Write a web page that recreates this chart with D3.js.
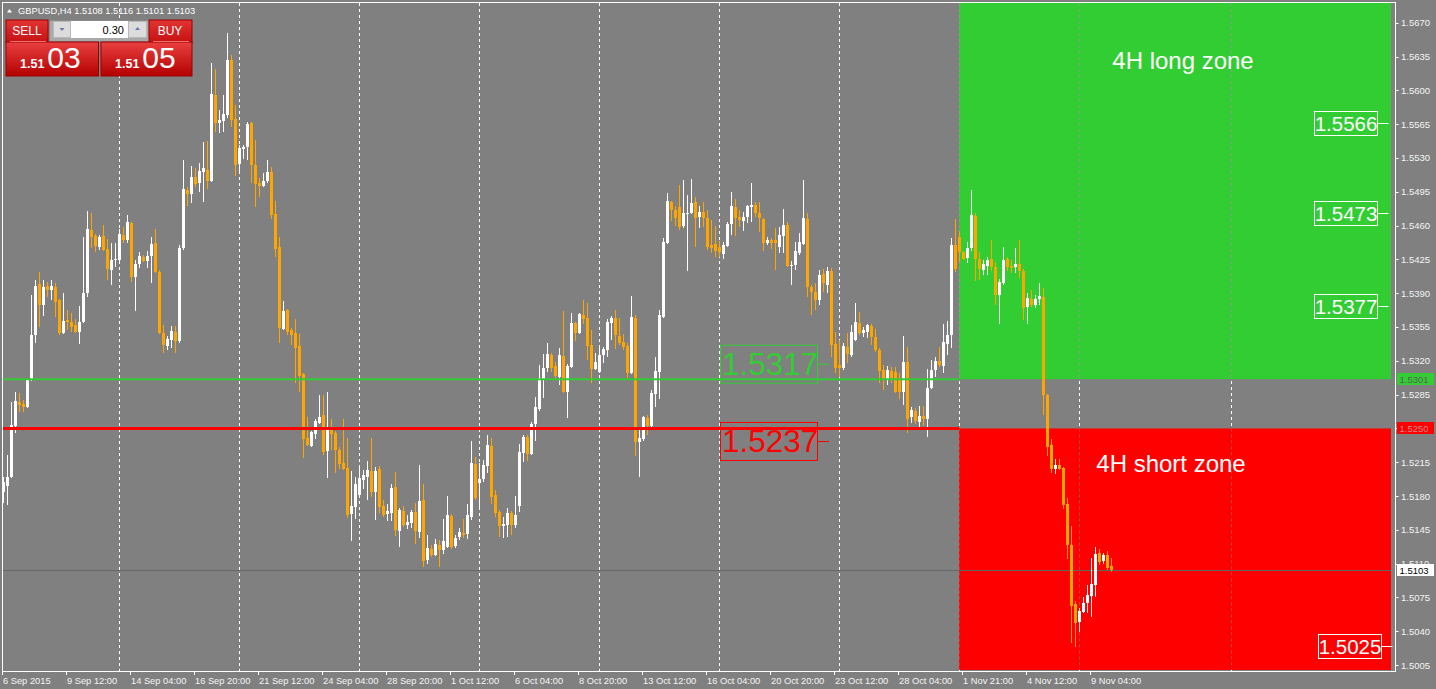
<!DOCTYPE html>
<html><head><meta charset="utf-8">
<script src="https://cdn.jsdelivr.net/npm/d3@7"></script>
<style>
body{margin:0;background:#808080;overflow:hidden}
svg{display:block}
text{font-family:"Liberation Sans",Arial,sans-serif}
</style>
</head><body>
<svg id="chart" width="1436" height="689"></svg>
<script>
// ---------------- DATA ----------------
const symbolTitle = "GBPUSD,H4";
const lastOHLC = ["1.5108", "1.5116", "1.5101", "1.5103"];
const lotSize = "0.30";
const sellQuote = ["1.51", "03"];
const buyQuote = ["1.51", "05"];

const openP = [
1.5184,1.5190,1.5200,1.5253,1.5277,1.5275,1.5272,1.5300,1.5347,1.5399,
1.5378,1.5397,1.5393,1.5396,1.5383,1.5349,1.5362,1.5360,1.5357,1.5350,
1.5360,1.5390,1.5455,1.5449,1.5438,1.5449,1.5436,1.5414,1.5424,1.5424,
1.5450,1.5445,1.5463,1.5407,1.5420,1.5427,1.5423,1.5428,1.5442,1.5412,
1.5349,1.5335,1.5342,1.5350,1.5340,1.5437,1.5497,1.5493,1.5510,1.5504,
1.5515,1.5518,1.5506,1.5595,1.5566,1.5568,1.5574,1.5631,1.5570,1.5524,
1.5539,1.5541,1.5566,1.5523,1.5504,1.5501,1.5506,1.5515,1.5472,1.5438,
1.5353,1.5373,1.5352,1.5349,1.5335,1.5306,1.5240,1.5232,1.5244,1.5256,
1.5264,1.5227,1.5248,1.5245,1.5228,1.5214,1.5209,1.5161,1.5169,1.5181,
1.5197,1.5200,1.5206,1.5184,1.5208,1.5170,1.5161,1.5162,1.5189,1.5144,
1.5165,1.5150,1.5152,1.5163,1.5143,1.5176,1.5114,1.5125,1.5119,1.5129,
1.5124,1.5127,1.5159,1.5128,1.5138,1.5142,1.5141,1.5158,1.5213,1.5194,
1.5198,1.5211,1.5232,1.5181,1.5163,1.5149,1.5150,1.5162,1.5150,1.5170,
1.5225,1.5241,1.5224,1.5255,1.5270,1.5301,1.5313,1.5326,1.5315,1.5303,
1.5325,1.5288,1.5314,1.5359,1.5349,1.5367,1.5364,1.5336,1.5312,1.5308,
1.5326,1.5331,1.5359,1.5364,1.5346,1.5339,1.5335,1.5307,1.5364,1.5236,
1.5239,1.5261,1.5253,1.5286,1.5308,1.5365,1.5442,1.5484,1.5476,1.5479,
1.5460,1.5472,1.5473,1.5484,1.5469,1.5474,1.5468,1.5440,1.5441,1.5438,
1.5431,1.5439,1.5462,1.5479,1.5469,1.5465,1.5469,1.5479,1.5481,1.5473,
1.5467,1.5442,1.5445,1.5445,1.5438,1.5449,1.5461,1.5418,1.5419,1.5432,
1.5441,1.5467,1.5396,1.5391,1.5383,1.5410,1.5398,1.5413,1.5337,1.5316,
1.5313,1.5334,1.5326,1.5342,1.5359,1.5349,1.5350,1.5356,1.5345,1.5331,
1.5310,1.5300,1.5309,1.5308,1.5302,1.5288,1.5319,1.5262,1.5268,1.5257,
1.5263,1.5260,1.5292,1.5310,1.5320,1.5315,1.5337,1.5347,1.5440,1.5448,
1.5433,1.5426,1.5437,1.5470,1.5425,1.5414,1.5418,1.5425,1.5417,1.5388,
1.5401,1.5425,1.5418,1.5417,1.5420,1.5413,1.5376,1.5384,1.5378,1.5384,
1.5386,1.5285,1.5233,1.5208,1.5212,1.5209,1.5172,1.5129,1.5068,1.5050,
1.5060,1.5069,1.5077,1.5088,1.5121,1.5113,1.5119,1.5108];

const highP = [
1.5200,1.5222,1.5277,1.5288,1.5287,1.5279,1.5301,1.5388,1.5404,1.5412,
1.5404,1.5402,1.5404,1.5401,1.5384,1.5390,1.5373,1.5369,1.5363,1.5377,
1.5448,1.5475,1.5473,1.5451,1.5450,1.5461,1.5446,1.5442,1.5442,1.5456,
1.5458,1.5471,1.5464,1.5424,1.5433,1.5430,1.5434,1.5448,1.5456,1.5414,
1.5357,1.5346,1.5356,1.5356,1.5440,1.5528,1.5500,1.5522,1.5520,1.5525,
1.5546,1.5548,1.5628,1.5622,1.5580,1.5595,1.5659,1.5637,1.5585,1.5543,
1.5543,1.5567,1.5567,1.5549,1.5509,1.5514,1.5528,1.5521,1.5485,1.5448,
1.5382,1.5374,1.5354,1.5363,1.5348,1.5307,1.5262,1.5247,1.5260,1.5285,
1.5285,1.5288,1.5260,1.5247,1.5231,1.5260,1.5240,1.5206,1.5200,1.5209,
1.5207,1.5216,1.5240,1.5210,1.5211,1.5176,1.5172,1.5192,1.5205,1.5168,
1.5170,1.5160,1.5166,1.5173,1.5212,1.5192,1.5140,1.5129,1.5136,1.5134,
1.5156,1.5180,1.5161,1.5140,1.5147,1.5156,1.5172,1.5237,1.5220,1.5214,
1.5217,1.5243,1.5240,1.5186,1.5166,1.5158,1.5168,1.5165,1.5180,1.5234,
1.5243,1.5243,1.5257,1.5283,1.5316,1.5327,1.5338,1.5328,1.5319,1.5333,
1.5372,1.5317,1.5369,1.5360,1.5369,1.5383,1.5380,1.5352,1.5328,1.5336,
1.5334,1.5363,1.5366,1.5373,1.5364,1.5348,1.5338,1.5387,1.5367,1.5248,
1.5263,1.5264,1.5290,1.5324,1.5373,1.5447,1.5494,1.5485,1.5480,1.5502,
1.5507,1.5492,1.5508,1.5490,1.5480,1.5484,1.5476,1.5466,1.5460,1.5444,
1.5443,1.5464,1.5495,1.5488,1.5476,1.5474,1.5481,1.5504,1.5484,1.5484,
1.5468,1.5448,1.5447,1.5457,1.5459,1.5477,1.5464,1.5423,1.5443,1.5452,
1.5507,1.5473,1.5398,1.5401,1.5414,1.5415,1.5417,1.5416,1.5350,1.5342,
1.5338,1.5349,1.5357,1.5380,1.5371,1.5355,1.5358,1.5358,1.5353,1.5333,
1.5316,1.5315,1.5314,1.5314,1.5307,1.5346,1.5334,1.5272,1.5271,1.5273,
1.5273,1.5312,1.5321,1.5324,1.5334,1.5358,1.5361,1.5447,1.5467,1.5454,
1.5434,1.5443,1.5497,1.5473,1.5433,1.5424,1.5427,1.5445,1.5422,1.5405,
1.5438,1.5427,1.5424,1.5437,1.5445,1.5415,1.5390,1.5393,1.5388,1.5401,
1.5395,1.5286,1.5239,1.5218,1.5218,1.5210,1.5178,1.5149,1.5071,1.5064,
1.5075,1.5088,1.5116,1.5127,1.5125,1.5121,1.5123,1.5116];

const lowP = [
1.5173,1.5171,1.5199,1.5245,1.5267,1.5267,1.5271,1.5299,1.5338,1.5355,
1.5366,1.5386,1.5383,1.5365,1.5347,1.5348,1.5352,1.5350,1.5349,1.5337,
1.5359,1.5386,1.5437,1.5433,1.5435,1.5434,1.5404,1.5398,1.5417,1.5421,
1.5442,1.5442,1.5402,1.5372,1.5416,1.5422,1.5416,1.5401,1.5411,1.5348,
1.5328,1.5331,1.5333,1.5328,1.5338,1.5435,1.5480,1.5483,1.5500,1.5495,
1.5484,1.5498,1.5505,1.5557,1.5556,1.5557,1.5571,1.5562,1.5511,1.5514,
1.5529,1.5528,1.5504,1.5479,1.5490,1.5500,1.5504,1.5467,1.5427,1.5338,
1.5352,1.5347,1.5336,1.5297,1.5288,1.5219,1.5232,1.5231,1.5239,1.5255,
1.5222,1.5199,1.5228,1.5204,1.5208,1.5207,1.5157,1.5133,1.5156,1.5178,
1.5187,1.5176,1.5179,1.5155,1.5162,1.5158,1.5154,1.5154,1.5139,1.5127,
1.5148,1.5146,1.5147,1.5130,1.5137,1.5107,1.5110,1.5117,1.5118,1.5107,
1.5120,1.5126,1.5125,1.5126,1.5134,1.5137,1.5136,1.5155,1.5176,1.5166,
1.5195,1.5204,1.5172,1.5158,1.5138,1.5137,1.5138,1.5140,1.5147,1.5163,
1.5215,1.5216,1.5222,1.5237,1.5268,1.5281,1.5308,1.5308,1.5301,1.5295,
1.5287,1.5261,1.5313,1.5341,1.5348,1.5358,1.5321,1.5297,1.5310,1.5307,
1.5318,1.5324,1.5342,1.5332,1.5336,1.5331,1.5301,1.5306,1.5221,1.5200,
1.5237,1.5243,1.5251,1.5272,1.5280,1.5364,1.5441,1.5465,1.5460,1.5455,
1.5457,1.5413,1.5472,1.5438,1.5457,1.5459,1.5435,1.5432,1.5427,1.5427,
1.5425,1.5438,1.5450,1.5449,1.5459,1.5454,1.5463,1.5464,1.5469,1.5453,
1.5434,1.5440,1.5436,1.5414,1.5432,1.5432,1.5417,1.5398,1.5414,1.5430,
1.5440,1.5386,1.5367,1.5373,1.5378,1.5391,1.5390,1.5324,1.5307,1.5303,
1.5310,1.5318,1.5324,1.5341,1.5347,1.5345,1.5344,1.5336,1.5329,1.5297,
1.5290,1.5295,1.5297,1.5287,1.5280,1.5274,1.5245,1.5256,1.5255,1.5251,
1.5253,1.5241,1.5291,1.5303,1.5314,1.5307,1.5326,1.5333,1.5412,1.5422,
1.5424,1.5421,1.5434,1.5403,1.5404,1.5409,1.5409,1.5413,1.5378,1.5358,
1.5398,1.5413,1.5411,1.5411,1.5406,1.5362,1.5358,1.5376,1.5375,1.5378,
1.5264,1.5221,1.5204,1.5203,1.5207,1.5167,1.5115,1.5028,1.5024,1.5039,
1.5059,1.5059,1.5055,1.5076,1.5109,1.5110,1.5103,1.5101];

const closeP = [
1.5195,1.5200,1.5254,1.5278,1.5274,1.5272,1.5300,1.5347,1.5397,1.5378,
1.5396,1.5393,1.5397,1.5381,1.5349,1.5361,1.5360,1.5355,1.5350,1.5360,
1.5390,1.5456,1.5448,1.5439,1.5448,1.5435,1.5415,1.5424,1.5425,1.5451,
1.5445,1.5464,1.5407,1.5420,1.5428,1.5423,1.5428,1.5441,1.5412,1.5349,
1.5336,1.5343,1.5351,1.5340,1.5437,1.5498,1.5493,1.5510,1.5503,1.5516,
1.5520,1.5506,1.5596,1.5566,1.5569,1.5575,1.5631,1.5569,1.5523,1.5540,
1.5541,1.5565,1.5523,1.5503,1.5501,1.5506,1.5515,1.5471,1.5436,1.5354,
1.5372,1.5350,1.5347,1.5333,1.5304,1.5239,1.5233,1.5246,1.5258,1.5262,
1.5226,1.5248,1.5244,1.5228,1.5213,1.5208,1.5160,1.5170,1.5192,1.5199,
1.5202,1.5207,1.5184,1.5206,1.5169,1.5160,1.5165,1.5188,1.5145,1.5166,
1.5150,1.5153,1.5163,1.5144,1.5175,1.5113,1.5126,1.5119,1.5130,1.5124,
1.5133,1.5160,1.5127,1.5137,1.5143,1.5140,1.5160,1.5214,1.5178,1.5198,
1.5212,1.5233,1.5179,1.5162,1.5149,1.5151,1.5162,1.5150,1.5160,1.5226,
1.5241,1.5224,1.5255,1.5272,1.5302,1.5313,1.5327,1.5313,1.5304,1.5326,
1.5288,1.5315,1.5359,1.5349,1.5368,1.5363,1.5335,1.5312,1.5319,1.5326,
1.5332,1.5360,1.5364,1.5347,1.5338,1.5334,1.5307,1.5365,1.5236,1.5240,
1.5262,1.5253,1.5287,1.5309,1.5367,1.5443,1.5485,1.5476,1.5468,1.5459,
1.5473,1.5473,1.5483,1.5468,1.5474,1.5468,1.5438,1.5437,1.5434,1.5433,
1.5440,1.5462,1.5480,1.5468,1.5466,1.5469,1.5480,1.5481,1.5473,1.5468,
1.5442,1.5445,1.5442,1.5442,1.5450,1.5461,1.5418,1.5419,1.5434,1.5443,
1.5468,1.5396,1.5391,1.5383,1.5409,1.5401,1.5413,1.5336,1.5313,1.5313,
1.5335,1.5327,1.5350,1.5360,1.5349,1.5352,1.5357,1.5345,1.5331,1.5309,
1.5300,1.5310,1.5302,1.5288,1.5288,1.5319,1.5260,1.5269,1.5258,1.5263,
1.5260,1.5292,1.5310,1.5320,1.5316,1.5339,1.5347,1.5440,1.5415,1.5433,
1.5425,1.5437,1.5471,1.5425,1.5415,1.5420,1.5424,1.5417,1.5388,1.5402,
1.5424,1.5417,1.5416,1.5420,1.5413,1.5375,1.5385,1.5378,1.5384,1.5387,
1.5285,1.5231,1.5208,1.5212,1.5208,1.5171,1.5129,1.5066,1.5049,1.5061,
1.5069,1.5078,1.5089,1.5120,1.5112,1.5119,1.5105,1.5103];

const timeLabels = ["6 Sep 2015","9 Sep 12:00","14 Sep 04:00","16 Sep 20:00","21 Sep 12:00",
  "24 Sep 04:00","28 Sep 20:00","1 Oct 12:00","6 Oct 04:00","8 Oct 20:00","13 Oct 12:00",
  "16 Oct 04:00","20 Oct 20:00","23 Oct 12:00","28 Oct 04:00","1 Nov 21:00","4 Nov 12:00","9 Nov 04:00"];
const barsPerLabel = 16;
const priceTicks = [1.5005,1.5040,1.5075,1.5110,1.5145,1.5180,1.5215,1.5250,1.5285,1.5320,
  1.5355,1.5390,1.5425,1.5460,1.5495,1.5530,1.5565,1.5600,1.5635,1.5670];
const gridBars = [29,59,89,119,149,179,209,239,269,307];
const zoneStartBar = 239, zoneEndBar = 347;
const longLevel = 1.5301, shortLevel = 1.5250, bidPrice = 1.5103;
const longTargets = [1.5566, 1.5473, 1.5377];
const shortTargets = [1.5025];
const markerLong = 1.5317, markerShort = 1.5237;
const zoneTitles = ["4H long zone", "4H short zone"];

// ---------------- SCALES ----------------
const W = 1436, H = 689;
const N = openP.length;
const x = d3.scaleLinear().domain([-0.25, 348.25]).range([2, 1396]);
const y = d3.scaleLinear().domain([1.5005, 1.5670]).range([665.1, 22.7]);
const plotL = 2, plotR = 1395.5, plotT = 2, plotB = 671;

const svg = d3.select("#chart");
svg.append("rect").attr("width", W).attr("height", H).attr("fill", "#808080");

const GREEN = "#32cd32", RED = "#ff0000", ORANGE = "#ffa500";
const zx0 = x(zoneStartBar), zx1 = x(zoneEndBar);

// grid lines (behind zones)
svg.append("g").selectAll("line").data(gridBars).join("line")
  .attr("x1", d => x(d) + 0.5).attr("x2", d => x(d) + 0.5)
  .attr("y1", plotT + 1).attr("y2", plotB)
  .attr("stroke", "#ffffff").attr("stroke-width", 1).attr("stroke-dasharray", "3,3");

// zones
const zones = [
  {y0: plotT + 1, y1: y(longLevel), fill: GREEN, grid: "#8c9a8c"},
  {y0: y(shortLevel), y1: plotB - 1, fill: RED, grid: "#b04848"}
];
svg.append("g").selectAll("rect").data(zones).join("rect")
  .attr("x", zx0).attr("width", zx1 - zx0)
  .attr("y", d => d.y0).attr("height", d => d.y1 - d.y0)
  .attr("fill", d => d.fill);
zones.forEach(z => {
  svg.append("g").selectAll("line").data(gridBars.filter(b => b >= zoneStartBar)).join("line")
    .attr("x1", d => x(d) + 0.5).attr("x2", d => x(d) + 0.5)
    .attr("y1", z.y0).attr("y2", z.y1)
    .attr("stroke", z.grid).attr("stroke-dasharray", "3,3");
});

// bid line
svg.append("line").attr("x1", plotL).attr("x2", zx1)
  .attr("y1", Math.round(y(bidPrice)) + 0.5).attr("y2", Math.round(y(bidPrice)) + 0.5)
  .attr("stroke", "#666666").attr("stroke-width", 1);

// candles
const bars = d3.range(N).map(i => ({i, o: openP[i], h: highP[i], l: lowP[i], c: closeP[i]}));
const cg = svg.append("g").attr("shape-rendering", "crispEdges");
const col = d => d.c >= d.o ? "#ffffff" : ORANGE;
cg.selectAll("rect.wick").data(bars).join("rect").attr("class", "wick")
  .attr("x", d => x(d.i)).attr("width", 1)
  .attr("y", d => Math.round(y(d.h)))
  .attr("height", d => Math.max(1, Math.round(y(d.l)) - Math.round(y(d.h))))
  .attr("fill", col);
cg.selectAll("rect.body").data(bars).join("rect").attr("class", "body")
  .attr("x", d => x(d.i) - 1).attr("width", 3)
  .attr("y", d => Math.round(y(Math.max(d.o, d.c))))
  .attr("height", d => Math.max(1, Math.round(y(Math.min(d.o, d.c))) - Math.round(y(Math.max(d.o, d.c)))))
  .attr("fill", col);

// level lines
svg.append("line").attr("x1", plotL).attr("x2", zx0)
  .attr("y1", y(longLevel)).attr("y2", y(longLevel))
  .attr("stroke", GREEN).attr("stroke-width", 2);
svg.append("line").attr("x1", plotL).attr("x2", zx0)
  .attr("y1", y(shortLevel)).attr("y2", y(shortLevel))
  .attr("stroke", RED).attr("stroke-width", 3);

// marker labels (1.5317 / 1.5237)
const markers = [{p: markerLong, c: GREEN}, {p: markerShort, c: RED}];
const mg = svg.append("g").selectAll("g").data(markers).join("g");
mg.append("rect").attr("x", 720.5).attr("y", d => y(d.p) - 18.5).attr("width", 97).attr("height", 38)
  .attr("fill", "none").attr("stroke", d => d.c).attr("stroke-width", 1);
mg.append("line").attr("x1", 818).attr("x2", 829).attr("y1", d => y(d.p) + 0.5).attr("y2", d => y(d.p) + 0.5)
  .attr("stroke", d => d.c);
mg.append("text").attr("x", 722).attr("y", d => y(d.p) + 11.5)
  .attr("font-size", 31.5).attr("fill", d => d.c).text(d => d.p.toFixed(4));

// target labels
const targets = longTargets.map(p => ({p, bx: 1314.5})).concat(shortTargets.map(p => ({p, bx: 1318.5})));
const tg = svg.append("g").selectAll("g").data(targets).join("g");
tg.append("rect").attr("x", d => d.bx).attr("y", d => Math.round(y(d.p)) - 11.5).attr("width", 63).attr("height", 24)
  .attr("fill", "none").attr("stroke", "#ffffff");
tg.append("line").attr("x1", d => d.bx + 63).attr("x2", d => d.bx + 74)
  .attr("y1", d => Math.round(y(d.p)) + 0.5).attr("y2", d => Math.round(y(d.p)) + 0.5).attr("stroke", "#ffffff");
tg.append("text").attr("x", d => d.bx + 31.5).attr("y", d => Math.round(y(d.p)) + 7.5)
  .attr("text-anchor", "middle").attr("font-size", 20.5).attr("fill", "#ffffff").text(d => d.p.toFixed(4));

// zone titles
svg.append("text").attr("x", 1183).attr("y", 68.5).attr("text-anchor", "middle")
  .attr("font-size", 24).attr("fill", "#ffffff").text(zoneTitles[0]);
svg.append("text").attr("x", 1171).attr("y", 471.5).attr("text-anchor", "middle")
  .attr("font-size", 24).attr("fill", "#ffffff").text(zoneTitles[1]);

// frame
svg.append("rect").attr("x", plotL + 0.5).attr("y", plotT + 0.5)
  .attr("width", plotR - plotL - 0.5).attr("height", plotB - plotT)
  .attr("fill", "none").attr("stroke", "#ffffff").attr("stroke-width", 1);

// right axis
const ya = svg.append("g");
ya.selectAll("line").data(priceTicks).join("line")
  .attr("x1", plotR).attr("x2", plotR + 3)
  .attr("y1", d => Math.round(y(d)) + 0.5).attr("y2", d => Math.round(y(d)) + 0.5)
  .attr("stroke", "#ffffff");
ya.selectAll("text").data(priceTicks.filter(p => Math.abs(p - bidPrice) > 0.0010))
  .join("text")
  .attr("x", 1401).attr("y", d => y(d) + 3.5)
  .attr("font-size", 9.5).attr("fill", "#f4f4f4").text(d => d.toFixed(4));
// tick label partly covered by the bid tag: clip it to the visible top part
svg.append("clipPath").attr("id", "bidclip").append("rect")
  .attr("x", 1396).attr("y", 0).attr("width", 40).attr("height", Math.round(y(bidPrice)) - 6);
ya.append("g").attr("clip-path", "url(#bidclip)").selectAll("text")
  .data(priceTicks.filter(p => Math.abs(p - bidPrice) <= 0.0010)).join("text")
  .attr("x", 1401).attr("y", d => y(d) + 3.5)
  .attr("font-size", 9.5).attr("fill", "#f4f4f4").text(d => d.toFixed(4));

// price tags on axis
const tags = [
  {p: longLevel, bg: GREEN, fg: "#5e5e5e"},
  {p: shortLevel, bg: RED, fg: "#c88a8a"},
  {p: bidPrice, bg: "#ffffff", fg: "#000000"}
];
const tgs = svg.append("g").selectAll("g").data(tags).join("g");
tgs.append("rect").attr("x", 1397).attr("y", d => Math.round(y(d.p)) - 6).attr("width", 37).attr("height", 12)
  .attr("fill", d => d.bg);
tgs.append("text").attr("x", 1399.5).attr("y", d => Math.round(y(d.p)) + 3.5)
  .attr("font-size", 9.5).attr("fill", d => d.fg).text(d => d.p.toFixed(4));

// bottom axis
const xa = svg.append("g");
const labelData = timeLabels.map((t, k) => ({t, i: k * barsPerLabel}));
xa.selectAll("line").data(labelData).join("line")
  .attr("x1", d => x(d.i) - 0.5).attr("x2", d => x(d.i) - 0.5)
  .attr("y1", plotB).attr("y2", plotB + 4).attr("stroke", "#ffffff");
xa.selectAll("text").data(labelData).join("text")
  .attr("x", d => x(d.i)).attr("y", 684)
  .attr("font-size", 9.3).attr("fill", "#f4f4f4").text(d => d.t);

// header
svg.append("path").attr("d", "M7,12.5 L9.5,9 L12,12.5 Z").attr("fill", "#ffffff");
svg.append("text").attr("x", 18).attr("y", 14).attr("font-size", 9.3).attr("fill", "#ffffff")
  .text(symbolTitle + "  " + lastOHLC.join(" "));

// trade panel
const defs = svg.append("defs");
const grad = defs.append("linearGradient").attr("id", "btn").attr("x1", 0).attr("y1", 0).attr("x2", 0).attr("y2", 1);
grad.append("stop").attr("offset", "0%").attr("stop-color", "#ea4040");
grad.append("stop").attr("offset", "100%").attr("stop-color", "#b40000");
const grad2 = defs.append("linearGradient").attr("id", "btn2").attr("x1", 0).attr("y1", 0).attr("x2", 0).attr("y2", 1);
grad2.append("stop").attr("offset", "0%").attr("stop-color", "#e43434");
grad2.append("stop").attr("offset", "100%").attr("stop-color", "#c41010");
const p = svg.append("g");
p.append("rect").attr("x", 49.5).attr("y", 20.5).attr("width", 100).attr("height", 21).attr("fill", "#a9a9a9").attr("stroke", "#8a8a8a");
p.append("rect").attr("x", 53.5).attr("y", 21.5).attr("width", 17).attr("height", 16).attr("fill", "#dcdcdc").attr("stroke", "#b8b8b8");
p.append("rect").attr("x", 128.5).attr("y", 21.5).attr("width", 18).attr("height", 16).attr("fill", "#dcdcdc").attr("stroke", "#b8b8b8");
p.append("rect").attr("x", 71).attr("y", 21).attr("width", 57).attr("height", 17).attr("fill", "#ffffff");
p.append("path").attr("d", "M59.5,28 L64.5,28 L62,31 Z").attr("fill", "#6a7ab0");
p.append("path").attr("d", "M135,30 L140,30 L137.5,27 Z").attr("fill", "#6a7ab0");
p.append("text").attr("x", 124).attr("y", 34).attr("text-anchor", "end").attr("font-size", 11).attr("fill", "#000").text(lotSize);
const btns = [
  {top: [6, 48], big: [6, 98.5], label: "SELL", q: sellQuote, lx: 27, sep: [10, 46]},
  {top: [149, 192], big: [101, 192], label: "BUY", q: buyQuote, lx: 170, sep: [153, 189]}
];
btns.forEach(b => {
  p.append("rect").attr("x", b.top[0]).attr("y", 20).attr("width", b.top[1] - b.top[0]).attr("height", 23)
    .attr("fill", "url(#btn2)").attr("stroke", "#9a0000").attr("stroke-width", 1);
  p.append("rect").attr("x", b.big[0]).attr("y", 42).attr("width", b.big[1] - b.big[0]).attr("height", 34)
    .attr("fill", "url(#btn)").attr("stroke", "#9a0000").attr("stroke-width", 1);
  p.append("line").attr("x1", b.sep[0]).attr("x2", b.sep[1]).attr("y1", 41.5).attr("y2", 41.5).attr("stroke", "#f07070");
  p.append("text").attr("x", b.lx).attr("y", 35).attr("text-anchor", "middle").attr("font-size", 12).attr("fill", "#fff").text(b.label);
  const t = p.append("text").attr("x", b.big[0] + 14).attr("y", 68).attr("fill", "#fff");
  t.append("tspan").attr("font-size", 12.5).attr("font-weight", "bold").text(b.q[0]);
  t.append("tspan").attr("dx", 3).attr("font-size", 30).text(b.q[1]);
});
</script>
</body></html>
